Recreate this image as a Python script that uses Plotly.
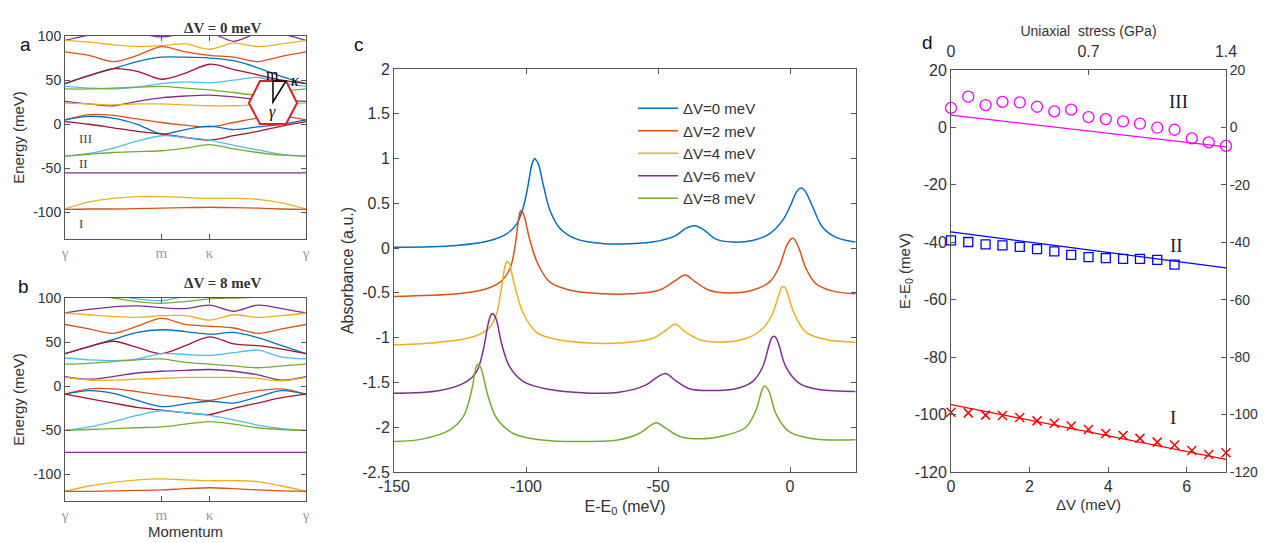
import plotly.graph_objects as go

# matlab default line colours
C_BLUE = "#0072BD"
C_ORANGE = "#D95319"
C_YELLOW = "#EDB120"
C_PURPLE = "#7E2F8E"
C_GREEN = "#77AC30"
C_LBLUE = "#4DBEEE"
C_DRED = "#A2142F"

# ---------------- panel a / b : band structures (gamma - m - kappa - gamma) ----------------
k_path = [0, 0.1, 0.2, 0.3, 0.4, 0.5, 0.6, 0.7, 0.8, 0.9, 1.0]
k_ticks = [0, 0.4, 0.6, 1.0]
k_labels = ["γ", "m", "κ", "γ"]
e_ticks = [-100, -50, 0, 50, 100]

bands_dv0 = [
    (C_PURPLE, [95, 101, 104, 103, 99, 103, 104, 94, 103, 102, 95]),
    (C_YELLOW, [95, 93, 90, 88, 89, 91, 85, 92, 88, 91, 95]),
    (C_ORANGE, [82, 78, 71, 78, 88, 82, 78, 76, 71, 77, 82]),
    (C_BLUE, [46, 55, 63, 71, 76, 76, 75, 72, 64, 54, 46]),
    (C_DRED, [46, 55, 63, 60, 51, 58, 68, 62, 56, 50, 46]),
    (C_LBLUE, [43, 41, 40, 42, 46, 48, 47, 50, 53, 47, 43]),
    (C_GREEN, [40, 40, 41, 42, 43, 41, 39, 36, 33, 37, 40]),
    (C_PURPLE, [26, 23, 21, 26, 30, 32, 33, 31, 28, 27, 26]),
    (C_YELLOW, [24, 23, 22, 23, 23, 22, 21, 21, 22, 23, 24]),
    (C_ORANGE, [5, 11, 10, 6, 2, -1, -3, 2, 7, 9, 5]),
    (C_BLUE, [5, 9, 7, 0, -11, -6, -2, -6, -3, 0, 5]),
    (C_DRED, [3, 0, -4, -8, -11, -15, -18, -13, -8, -2, 3]),
    (C_LBLUE, [-36, -33, -27, -19, -13, -15, -18, -24, -29, -34, -36]),
    (C_GREEN, [-36, -34, -32, -31, -30, -27, -23, -28, -32, -35, -36]),
    (C_PURPLE, [-55, -55, -55, -55, -55, -55, -55, -55, -55, -55, -55]),
    (C_YELLOW, [-96, -88, -84, -82, -82, -83, -84, -84, -85, -89, -96]),
    (C_ORANGE, [-96.5, -96, -96, -95.5, -95, -94.5, -94, -94.5, -95, -96, -96.5]),
]

bands_dv8 = [
    (C_LBLUE, [106, 105, 103, 99, 97, 102, 106, 107, 107, 106, 106]),
    (C_GREEN, [104, 103, 100, 96, 94, 96, 99, 100, 101, 103, 104]),
    (C_PURPLE, [83, 87, 90, 91, 89, 88, 92, 85, 92, 88, 83]),
    (C_YELLOW, [83, 81, 79, 78, 80, 80, 75, 81, 78, 80, 83]),
    (C_ORANGE, [70, 65, 60, 68, 77, 70, 68, 66, 60, 65, 70]),
    (C_BLUE, [37, 45, 53, 61, 64, 62, 59, 61, 55, 46, 37]),
    (C_DRED, [37, 45, 51, 44, 37, 46, 56, 48, 46, 42, 37]),
    (C_LBLUE, [32, 30, 29, 31, 37, 36, 35, 38, 41, 33, 31]),
    (C_GREEN, [25, 26, 28, 30, 31, 27, 25, 23, 21, 23, 25]),
    (C_PURPLE, [11, 8, 11, 15, 17, 18, 19, 17, 13, 7, 11]),
    (C_YELLOW, [10, 7, 7, 8, 9, 10, 10, 10, 9, 6, 10]),
    (C_ORANGE, [-9, -3, -3, -6, -10, -13, -16, -10, -5, -3, -9]),
    (C_BLUE, [-9, -5, -8, -16, -23, -20, -17, -19, -12, -5, -9]),
    (C_DRED, [-9, -14, -19, -24, -27, -30, -32, -25, -19, -13, -9]),
    (C_LBLUE, [-50, -46, -40, -33, -28, -30, -33, -38, -44, -48, -50]),
    (C_GREEN, [-50, -49, -48, -47, -46, -43, -40, -43, -47, -49, -50]),
    (C_PURPLE, [-75, -75, -75, -75, -75, -75, -75, -75, -75, -75, -75]),
    (C_YELLOW, [-119, -113, -109, -106, -105, -106, -107, -107, -108, -113, -119]),
    (C_ORANGE, [-119, -119, -118.5, -118, -117.5, -116, -115, -116, -117.5, -118.5, -119]),
]

# ---------------- panel c : absorbance spectra ----------------
e_dv0 = [-150, -126.3, -113.6, -107.3, -103.5, -101, -99.1, -97.9, -97.2, -96.7, -96.1, -95.3, -93.4, -90.9,
         -87.1, -80.8, -70.7, -64.8, -52.2, -43.3, -39.5, -36.0, -32.5, -28.1, -21.8, -14.2, -7.8, -2.8, 0.4,
         2.3, 3.4, 4.2, 5.0, 6.1, 8.6, 12.4, 17.5, 24.8]
a_dv0 = [0.01, 0.03, 0.085, 0.16, 0.27, 0.46, 0.72, 0.92, 0.98, 1.0, 0.98, 0.94, 0.70, 0.42,
         0.22, 0.10, 0.05, 0.045, 0.067, 0.14, 0.22, 0.25, 0.20, 0.10, 0.067, 0.085, 0.16, 0.31, 0.49,
         0.62, 0.66, 0.67, 0.66, 0.62, 0.46, 0.23, 0.12, 0.067]

e_dv2 = [-150, -126.3, -116.2, -109.8, -106.1, -104.2, -102.9, -102.3, -101.8, -101.2, -100.4, -98.5, -95.3,
         -90.9, -83.3, -70.7, -60, -49.6, -43.3, -39.7, -35.7, -30.6, -23.0, -14.2, -7.8, -4.1, -1.5, 0.3,
         1.0, 1.7, 3.5, 6.1, 9.9, 16.2, 24.8]
a_dv2 = [-0.54, -0.51, -0.465, -0.38, -0.23, 0.01, 0.31, 0.40, 0.42, 0.40, 0.33, 0.085, -0.19,
         -0.38, -0.47, -0.51, -0.51, -0.47, -0.36, -0.30, -0.38, -0.47, -0.50, -0.47, -0.38, -0.21, 0.01, 0.10,
         0.11, 0.10, -0.01, -0.23, -0.40, -0.48, -0.51]

e_dv4 = [-150, -132.6, -119.9, -113.6, -111.1, -109.2, -108.0, -107.3, -106.6, -106.1, -104.2, -101.0, -96.0,
         -88.4, -75.8, -64.8, -52.2, -47.1, -43.5, -39.5, -34.4, -26.8, -16.7, -10.4, -6.6, -4.1, -3.2, -2.5,
         -1.7, -0.9, 1.6, 6.1, 13.7, 24.8]
a_dv4 = [-1.08, -1.05, -0.99, -0.88, -0.73, -0.43, -0.21, -0.155, -0.16, -0.19, -0.43, -0.73, -0.94,
         -1.02, -1.06, -1.06, -1.01, -0.92, -0.85, -0.94, -1.02, -1.05, -1.01, -0.90, -0.73, -0.51, -0.44, -0.43,
         -0.45, -0.51, -0.73, -0.94, -1.02, -1.05]

e_dv6 = [-150, -132.6, -122.5, -118.7, -116.2, -114.3, -113.5, -112.8, -112.0, -111.1, -109.2, -106.1, -101.0,
         -90.9, -75.8, -64.8, -54.7, -50.3, -47.1, -43.3, -38.2, -29.4, -20.5, -14.2, -10.4, -7.8, -6.9, -6.1,
         -5.3, -4.3, -1.5, 3.5, 11.1, 24.8]
a_dv6 = [-1.62, -1.59, -1.49, -1.38, -1.14, -0.84, -0.76, -0.73, -0.75, -0.81, -1.07, -1.33, -1.49,
         -1.58, -1.62, -1.61, -1.53, -1.44, -1.40, -1.48, -1.57, -1.59, -1.57, -1.49, -1.33, -1.07, -1.0, -0.985,
         -1.0, -1.07, -1.33, -1.51, -1.58, -1.60]

e_dv8 = [-150, -138.9, -128.8, -123.7, -120.6, -119.2, -118.4, -117.6, -116.8, -114.3, -111.1, -104.8, -94.7,
         -75.8, -64.8, -57.2, -52.8, -50.6, -47.1, -42.0, -34.4, -24.3, -16.7, -12.9, -11.0, -10.3, -9.6, -8.8,
         -7.8, -5.3, -0.3, 8.6, 24.8]
a_dv8 = [-2.16, -2.13, -2.03, -1.88, -1.59, -1.36, -1.30, -1.31, -1.36, -1.66, -1.90, -2.07, -2.14,
         -2.16, -2.14, -2.07, -1.98, -1.95, -2.01, -2.10, -2.13, -2.09, -2.00, -1.81, -1.62, -1.56, -1.54, -1.56,
         -1.61, -1.85, -2.05, -2.13, -2.14]

spectra = [
    ("ΔV=0 meV", C_BLUE, e_dv0, a_dv0),
    ("ΔV=2 meV", C_ORANGE, e_dv2, a_dv2),
    ("ΔV=4 meV", C_YELLOW, e_dv4, a_dv4),
    ("ΔV=6 meV", C_PURPLE, e_dv6, a_dv6),
    ("ΔV=8 meV", C_GREEN, e_dv8, a_dv8),
]
abs_ticks = [-2.5, -2, -1.5, -1, -0.5, 0, 0.5, 1, 1.5, 2]
ediff_ticks = [-150, -100, -50, 0]

# ---------------- panel d : peak energies vs dV ----------------
dv = [0, 0.44, 0.88, 1.31, 1.75, 2.19, 2.63, 3.06, 3.5, 3.94, 4.38, 4.81, 5.25, 5.69, 6.13, 6.56, 7.0]
peak_III = [6.8, 10.7, 7.8, 8.9, 8.7, 7.2, 5.6, 6.2, 3.6, 2.9, 2.1, 1.3, -0.1, -0.8, -3.8, -5.2, -6.4]
peak_II = [-39.3, -39.9, -40.7, -41.1, -41.6, -42.4, -43.2, -44.4, -45.2, -45.5, -45.8, -45.8, -46.1, -47.8]
peak_I = [-99.2, -99.4, -100.2, -100.3, -101.0, -102.2, -103.0, -104.0, -105.2, -106.6, -107.3, -108.3,
          -109.6, -110.6, -112.5, -113.9, -113.3]
fit_dv = [0, 7]
fit_III = [4.3, -6.8]
fit_II = [-36.4, -48.9]
fit_I = [-96.5, -115.6]
stress_ticks = [0, 0.7, 1.4]
ed_ticks = [-120, -100, -80, -60, -40, -20, 0, 20]
dv_ticks = [0, 2, 4, 6]

SANS = "Liberation Sans, Arial, sans-serif"
SERIF = "Liberation Serif, DejaVu Serif, serif"
AX = "#555555"
TXT = "#333333"

# the page body adds an 8px margin, so the figure is 8px smaller and positions are shifted
W, H = 1259, 535


def X(px):
    return (px - 8) / W


def Y(py):
    return 1 - (py - 8) / H


def lab(vals):
    # plain hyphen for negatives, like the original
    return [("%g" % v) for v in vals]


fig = go.Figure()

for xa, ya, bands in [("x", "y", bands_dv0), ("x2", "y2", bands_dv8)]:
    for col, e in bands:
        fig.add_trace(go.Scatter(x=k_path, y=e, xaxis=xa, yaxis=ya, mode="lines", showlegend=False,
                                 line=dict(color=col, width=1.3, shape="spline", smoothing=0.9)))

for name, col, e, a in spectra:
    fig.add_trace(go.Scatter(x=e, y=a, xaxis="x3", yaxis="y3", mode="lines", name=name,
                             line=dict(color=col, width=1.5, shape="spline", smoothing=1.0)))

fig.add_trace(go.Scatter(x=fit_dv, y=fit_III, xaxis="x4", yaxis="y4", mode="lines", showlegend=False,
                         line=dict(color="#FF00FF", width=1.2)))
fig.add_trace(go.Scatter(x=fit_dv, y=fit_II, xaxis="x4", yaxis="y4", mode="lines", showlegend=False,
                         line=dict(color="#0000FF", width=1.2)))
fig.add_trace(go.Scatter(x=fit_dv, y=fit_I, xaxis="x4", yaxis="y4", mode="lines", showlegend=False,
                         line=dict(color="#FF0000", width=1.2)))
fig.add_trace(go.Scatter(x=dv, y=peak_III, xaxis="x4", yaxis="y4", mode="markers", showlegend=False, cliponaxis=False,
                         marker=dict(symbol="circle-open", size=11, color="#FF00FF", line=dict(width=1.3))))
fig.add_trace(go.Scatter(x=dv[:len(peak_II)], y=peak_II, xaxis="x4", yaxis="y4", mode="markers", showlegend=False,
                         cliponaxis=False,
                         marker=dict(symbol="square-open", size=9, color="#0000FF", line=dict(width=1.3))))
fig.add_trace(go.Scatter(x=dv, y=peak_I, xaxis="x4", yaxis="y4", mode="markers", showlegend=False, cliponaxis=False,
                         marker=dict(symbol="x-thin-open", size=9, color="#FF0000", line=dict(width=1.5))))
# dummy trace so the secondary axes of d are drawn
fig.add_trace(go.Scatter(x=[None], y=[None], xaxis="x5", yaxis="y5", showlegend=False))


def ax(**kw):
    base = dict(showgrid=False, zeroline=False, showline=True, linecolor=AX, linewidth=1, mirror="ticks",
                ticks="inside", ticklen=5, tickcolor=AX, automargin=False,
                tickfont=dict(family=SANS, size=14, color=TXT))
    base.update(kw)
    return base


gfont = dict(family=SERIF, size=15, color="#999999")
tf16 = dict(family=SANS, size=16, color=TXT)
tf14 = dict(family=SANS, size=14, color=TXT)
fig.update_layout(
    width=W, height=H, margin=dict(l=0, r=0, t=0, b=0),
    paper_bgcolor="white", plot_bgcolor="white",
    font=dict(family=SANS, color=TXT),
    xaxis=ax(domain=[X(65), X(306)], anchor="y", range=[0, 1], tickvals=k_ticks, ticktext=k_labels,
             tickfont=gfont),
    yaxis=ax(domain=[Y(239), Y(36)], anchor="x", range=[-130, 100], tickvals=e_ticks, ticktext=lab(e_ticks),
             title=dict(text="Energy (meV)", font=dict(size=15), standoff=4)),
    xaxis2=ax(domain=[X(65), X(306)], anchor="y2", range=[0, 1], tickvals=k_ticks, ticktext=k_labels,
              tickfont=gfont, title=dict(text="Momentum", font=dict(size=15), standoff=2)),
    yaxis2=ax(domain=[Y(501), Y(298)], anchor="x2", range=[-130, 100], tickvals=e_ticks, ticktext=lab(e_ticks),
              title=dict(text="Energy (meV)", font=dict(size=15), standoff=4)),
    xaxis3=ax(domain=[X(394), X(856)], anchor="y3", range=[-150, 25], tickvals=ediff_ticks,
              ticktext=lab(ediff_ticks), tickfont=tf16,
              title=dict(text="E-E<sub>0</sub> (meV)", font=dict(size=16), standoff=6)),
    yaxis3=ax(domain=[Y(472), Y(69)], anchor="x3", range=[-2.5, 2], tickvals=abs_ticks, ticktext=lab(abs_ticks),
              tickfont=tf16, title=dict(text="Absorbance (a.u.)", font=dict(size=16), standoff=4)),
    xaxis4=ax(domain=[X(951), X(1226)], anchor="y4", range=[0, 7], tickvals=dv_ticks, ticktext=lab(dv_ticks),
              mirror=False, tickfont=tf16, title=dict(text="ΔV (meV)", font=dict(size=15), standoff=5)),
    yaxis4=ax(domain=[Y(472), Y(70)], anchor="x4", range=[-120, 20], tickvals=ed_ticks, ticktext=lab(ed_ticks),
              mirror=False, tickfont=tf16,
              title=dict(text="E-E<sub>0</sub> (meV)", font=dict(size=15), standoff=0)),
    xaxis5=ax(overlaying="x4", side="top", anchor="y4", range=[0, 1.4], tickvals=stress_ticks,
              ticktext=["0", "0.7", "1.4"], mirror=False, tickfont=tf16, ticklabelstandoff=6,
              title=dict(text="Uniaxial  stress (GPa)", font=dict(size=14), standoff=2)),
    yaxis5=ax(overlaying="y4", side="right", anchor="x4", range=[-120, 20], tickvals=ed_ticks,
              ticktext=lab(ed_ticks), mirror=False, tickfont=tf14, ticklabelstandoff=0),
    legend=dict(x=X(633), y=Y(92), xanchor="left", yanchor="top", bgcolor="rgba(0,0,0,0)",
                font=dict(family=SANS, size=15, color=TXT), tracegroupgap=0, itemwidth=40),
)

# brillouin zone inset in panel a (white filled hexagon with gamma-m-kappa path)
fig.add_shape(type="path", xref="x", yref="y",
              path="M 0.763 24.1 L 0.809 49 L 0.917 49 L 0.963 24.1 L 0.917 0.3 L 0.809 0.3 Z",
              fillcolor="white", line=dict(color="#E02020", width=2))
fig.add_shape(type="path", xref="x", yref="y",
              path="M 0.863 49 L 0.863 25.2 L 0.917 49 Z",
              line=dict(color="black", width=1.5))

annos = [
    dict(x=0.863, y=56, xref="x", yref="y", text="m", font=dict(family=SERIF, size=16, color="black")),
    dict(x=0.955, y=50, xref="x", yref="y", text="<i>κ</i>", font=dict(family=SERIF, size=16, color="black")),
    dict(x=0.86, y=14, xref="x", yref="y", text="<i>γ</i>", font=dict(family=SERIF, size=16, color="black")),
    dict(x=0.05, y=-16, xref="x", yref="y", text="III", xanchor="left", font=dict(family=SERIF, size=13, color="#444")),
    dict(x=0.05, y=-45, xref="x", yref="y", text="II", xanchor="left", font=dict(family=SERIF, size=13, color="#444")),
    dict(x=0.05, y=-112, xref="x", yref="y", text="I", xanchor="left", font=dict(family=SERIF, size=13, color="#444")),
    dict(x=X(182), y=Y(18), xref="paper", yref="paper", text="<b>ΔV = 0 meV</b>",
         font=dict(family=SERIF, size=15, color=TXT)),
    dict(x=X(182), y=Y(283), xref="paper", yref="paper", text="<b>ΔV = 8 meV</b>",
         font=dict(family=SERIF, size=15, color=TXT)),
    dict(x=5.8, y=9, xref="x4", yref="y4", text="III", font=dict(family=SERIF, size=19, color="#222")),
    dict(x=5.75, y=-41, xref="x4", yref="y4", text="II", font=dict(family=SERIF, size=19, color="#222")),
    dict(x=5.65, y=-101, xref="x4", yref="y4", text="I", font=dict(family=SERIF, size=19, color="#222")),
    dict(x=X(18), y=Y(32), xref="paper", yref="paper", text="a", font=dict(family=SANS, size=19, color="#111")),
    dict(x=X(16), y=Y(286), xref="paper", yref="paper", text="b", font=dict(family=SANS, size=19, color="#111")),
    dict(x=X(352), y=Y(32), xref="paper", yref="paper", text="c", font=dict(family=SANS, size=19, color="#111")),
    dict(x=X(935), y=Y(30), xref="paper", yref="paper", text="d", font=dict(family=SANS, size=19, color="#111")),
]
for a in annos:
    a.setdefault("showarrow", False)
    fig.add_annotation(**a)

fig.write_html("out.html")
